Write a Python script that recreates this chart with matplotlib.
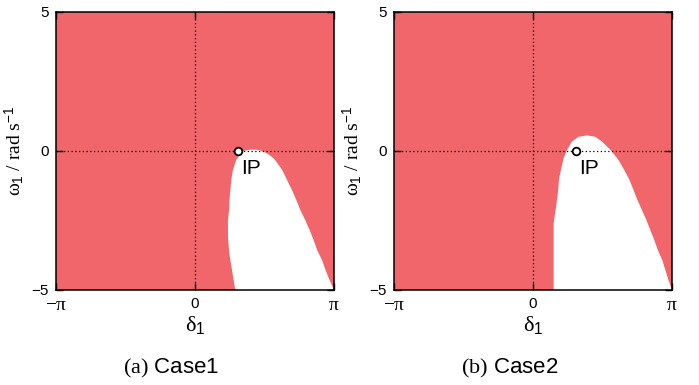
import numpy as np
from matplotlib import pyplot as plt

plt.rcParams['font.family'] = ['Liberation Sans', 'DejaVu Sans']
plt.rcParams['mathtext.fontset'] = 'custom'
plt.rcParams['mathtext.rm'] = 'Liberation Serif'
plt.rcParams['mathtext.it'] = 'Liberation Serif'
plt.rcParams['mathtext.sf'] = 'Liberation Sans'

# 稳定域边界 (δ1, ω1)
case1_delta = [0.91, 0.836, 0.775, 0.745, 0.745, 0.77, 0.78, 0.80, 0.82, 0.858, 0.933,
               1.01, 1.10, 1.20, 1.32, 1.42, 1.51, 1.62, 1.72, 1.81, 1.97, 2.08, 2.19,
               2.29, 2.38, 2.49, 2.59, 2.68, 2.76, 2.87, 2.95, 3.04, np.pi]
case1_omega = [-5.0, -4.28, -3.68, -3.08, -2.48, -2.12, -1.76, -1.40, -1.04, -0.68, -0.32,
               -0.14, 0.0, 0.04, 0.05, 0.04, 0.0, -0.08, -0.19, -0.32, -0.68, -1.04, -1.40,
               -1.76, -2.12, -2.48, -2.84, -3.20, -3.56, -3.92, -4.28, -4.64, -5.0]

case2_delta = [0.466, 0.466, 0.527, 0.565, 0.59, 0.64, 0.69, 0.77, 0.88, 1.03, 1.22, 1.41,
               1.56, 1.75, 1.93, 2.06, 2.18, 2.27, 2.36, 2.46, 2.56, 2.65, 2.74, 2.82,
               2.92, 2.99, 3.06, np.pi]
case2_omega = [-5.0, -2.60, -1.94, -1.46, -0.98, -0.62, -0.26, 0.04, 0.34, 0.51, 0.56, 0.51,
               0.34, 0.04, -0.32, -0.68, -1.04, -1.40, -1.76, -2.12, -2.48, -2.84, -3.20,
               -3.56, -3.92, -4.28, -4.64, -5.0]

ip_delta = 0.97
ip_omega = 0.0

x_ticks = [-np.pi, 0, np.pi]
x_labels = [r'$-\pi$', '0', r'$\pi$']
y_ticks = [-5, 0, 5]
y_labels = ['\u22125', '0', '5']

captions = [r'$\mathrm{(a)}$ Case1', r'$\mathrm{(b)}$ Case2']

red = '#F0666A'

fig = plt.figure(figsize=(6.99, 3.85), dpi=100)


def draw_panel(ax, d, w, caption, cap_x):
    ax.set_facecolor(red)
    ax.fill(d, w, color='white', lw=0, zorder=1)
    ax.axhline(0, color='black', ls=(0, (1, 2)), lw=0.9, zorder=2)
    ax.axvline(0, color='black', ls=(0, (1, 2)), lw=0.9, zorder=2)
    ax.plot([ip_delta], [ip_omega], 'o', ms=5.5, mfc='white', mec='black', mew=1.3, zorder=3)
    ax.text(1.05, -0.62, 'IP', fontsize=15, ha='left', va='center', zorder=3)

    ax.set_xlim(-np.pi, np.pi)
    ax.set_ylim(-5, 5)
    ax.set_xticks(x_ticks)
    ax.set_xticklabels(x_labels)
    ax.set_yticks(y_ticks)
    ax.set_yticklabels(y_labels)
    ax.tick_params(direction='in', length=5, width=1, top=True, right=True,
                   labelsize=11, pad=5)
    for lbl in ax.get_xticklabels():
        if 'pi' in lbl.get_text():
            lbl.set_fontsize(14)
    for s in ax.spines.values():
        s.set_linewidth(1.1)

    ax.set_xlabel(r'$\delta_\mathsf{1}$', fontsize=16, labelpad=0)
    ax.set_ylabel(r'$\omega_\mathsf{1}$ / rad s$^{\mathsf{-1}}$', fontsize=14,
                  family='Liberation Serif', labelpad=4)
    fig.text(cap_x, 0.042, caption, fontsize=16, ha='center', va='center')


ax1 = fig.add_axes([0.0801, 0.2468, 0.3977, 0.7221])
draw_panel(ax1, case1_delta, case1_omega, captions[0], 171 / 699)

ax2 = fig.add_axes([0.5637, 0.2468, 0.3977, 0.7221])
draw_panel(ax2, case2_delta, case2_omega, captions[1], 509.5 / 699)

fig.savefig('out.png', dpi=100)
